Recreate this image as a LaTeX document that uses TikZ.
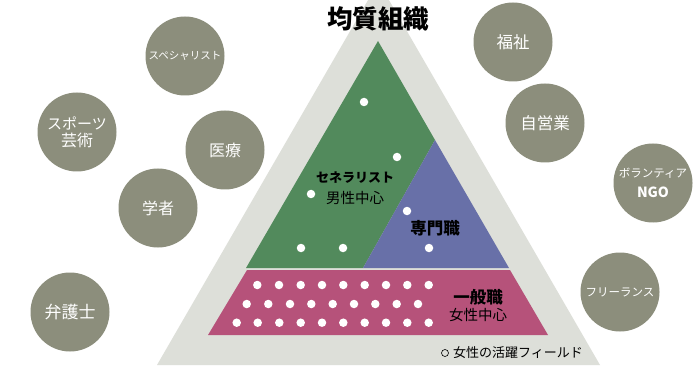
\documentclass[tikz,border=0pt]{standalone}
\usepackage{fontspec}
\setmainfont{Noto Sans CJK JP}
\definecolor{outerg}{RGB}{221,223,217}
\definecolor{greenr}{RGB}{82,138,92}
\definecolor{bluer}{RGB}{104,112,168}
\definecolor{pinkr}{RGB}{182,82,122}
\definecolor{circg}{RGB}{140,142,124}
\begin{document}
\begin{tikzpicture}[x=1pt,y=-1pt,
  bubble/.style={circle,fill=circg,minimum size=79pt,inner sep=0pt,text=white,align=center,font=\fontsize{16}{18}\selectfont},
  wdot/.style={circle,fill=white,inner sep=0pt,minimum size=8.5pt},
  lbl/.style={align=center,inner sep=0pt,text=black}]
\useasboundingbox (0,0) rectangle (700,371);
\clip (0,0) rectangle (700,371);
\fill[white] (0,0) rectangle (700,371);
% outer triangle
\fill[outerg] (378.5,-18) -- (600,365) -- (157,365) -- cycle;
% green region
\fill[greenr] (378,41) -- (435,140) -- (363,268) -- (246,268) -- cycle;
% blue region
\fill[bluer] (435,140) -- (509,268) -- (363,268) -- cycle;
% pink band
\fill[pinkr] (247,270) -- (510,270) -- (548,335) -- (208,335) -- cycle;
% title
\node[lbl,font=\fontsize{25.5}{28}\selectfont\bfseries] (title) at (378,19) {均質組織};
% dots in green/blue
\foreach \p [count=\i] in {(364,102),(397,157),(311,194),(301,248),(343,248),(407,211),(429,248)}
  \node[wdot] (d\i) at \p {};
% dots in pink
\foreach \x [count=\i] in {257.3,279,300.7,322,343.3,364.7,386,407.3,428.7}
  \node[wdot] (ra\i) at (\x,285) {};
\foreach \x [count=\i] in {246.7,268.3,290,311.3,332.7,354,375.3,396.7,418}
  \node[wdot] (rb\i) at (\x,304) {};
\foreach \x [count=\i] in {236.7,257.7,279.3,300.7,322,343.3,364.7,386,407.3,428.7}
  \node[wdot] (rc\i) at (\x,322.7) {};
% region labels
\node[lbl,font=\fontsize{13}{16}\selectfont\bfseries] (gen) at (355,178) {セネラリスト};
\node[lbl,font=\fontsize{14.5}{16}\selectfont] (genm) at (355,198) {男性中心};
\node[lbl,font=\fontsize{16.5}{18}\selectfont\bfseries] (sen) at (435,228) {専門職};
\node[lbl,font=\fontsize{16.5}{18}\selectfont\bfseries] (ipp) at (478,297) {一般職};
\node[lbl,font=\fontsize{14.5}{16}\selectfont] (ippf) at (478,315) {女性中心};
% legend
\node[circle,draw=black,line width=0.6pt,inner sep=0pt,minimum size=7pt] (legdot) at (445,353) {};
\node[lbl,anchor=west,font=\fontsize{13}{15}\selectfont] (leg) at (453,353) {女性の活躍フィールド};
% bubbles
\node[bubble,font=\fontsize{10.5}{13}\selectfont] (spec) at (185,56) {スペシャリスト};
\node[bubble] (sport) at (77,132) {{\fontsize{15}{17}\selectfont スポーツ}\\[-1pt]芸術};
\node[bubble] (iryo) at (225,150) {医療};
\node[bubble] (gaku) at (158,208) {学者};
\node[bubble,font=\fontsize{17}{18}\selectfont] (ben) at (70,312) {弁護士};
\node[bubble,font=\fontsize{16.5}{18}\selectfont] (fuku) at (513,42) {福祉};
\node[bubble,font=\fontsize{16.5}{18}\selectfont] (jiei) at (545,123) {自営業};
\node[bubble,font=\fontsize{11.5}{20}\selectfont] (ngo) at (653,183) {ボランティア\\{\fontsize{14}{16}\selectfont\bfseries NGO}};
\node[bubble,font=\fontsize{11.5}{14}\selectfont] (free) at (620,292) {フリーランス};
\end{tikzpicture}
\end{document}
